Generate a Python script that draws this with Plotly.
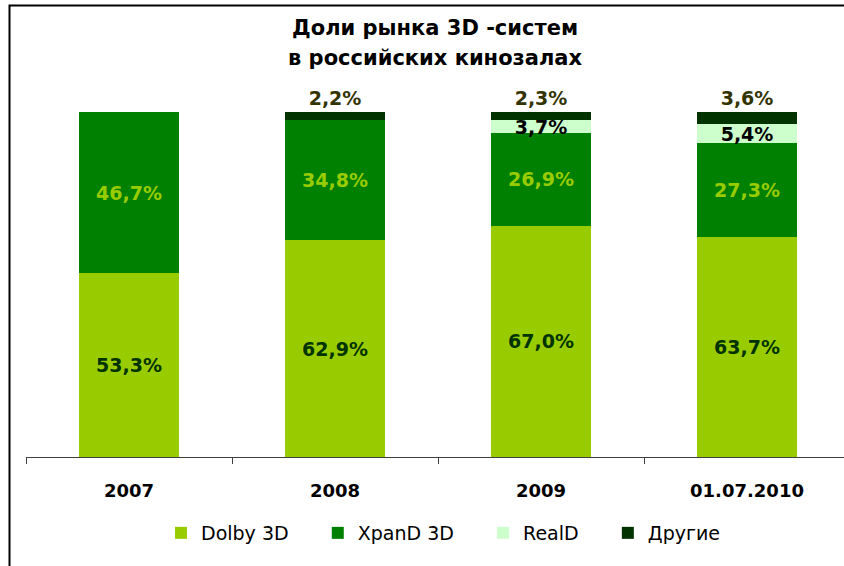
import plotly.graph_objects as go

categories = ["2007", "2008", "2009", "01.07.2010"]
dolby = [53.3, 62.9, 67.0, 63.7]
xpand = [46.7, 34.8, 26.9, 27.3]
reald = [0, 0, 3.7, 5.4]
other = [0, 2.2, 2.3, 3.6]
title_lines = ["Доли рынка 3D -систем", "в российских кинозалах"]

PAD = "\u00a0" * 4
series = [
    ("Dolby 3D" + PAD, dolby, "#99CC00", "#003300", "inside"),
    ("XpanD 3D" + PAD, xpand, "#008000", "#99CC00", "inside"),
    ("RealD" + PAD, reald, "#CCFFCC", "#000000", "inside"),
    ("Другие", other, "#003300", "#333300", "outside"),
]

def fmt(v):
    return ("%.1f%%" % v).replace(".", ",") if v > 0 else ""

LBL = dict(family="DejaVu Sans", size=19, weight="bold")

fig = go.Figure()
for name, vals, color, tcol, pos in series:
    fig.add_trace(go.Bar(
        x=categories, y=vals, name=name,
        marker=dict(color=color, line=dict(width=0)),
        text=[fmt(v) for v in vals],
        textposition=pos,
        insidetextanchor="middle",
        textangle=0,
        constraintext="none",
        textfont=dict(LBL, color=tcol),
        outsidetextfont=dict(LBL, color=tcol),
        insidetextfont=dict(LBL, color=tcol),
        cliponaxis=False,
    ))

# plot area: x 26..844, y 90..457 (pixels)
PT, PB, PL = 90, 457, 26
PH = PB - PT
PW = 844 - PL

def py(y):
    return (PB - y) / PH

def px(x):
    return (x - PL) / PW

annotations = [
    dict(text="<b>%s</b>" % t, xref="paper", yref="paper",
         x=px(435), y=py(yc), xanchor="center", yanchor="middle",
         showarrow=False,
         font=dict(family="DejaVu Sans", size=21, color="#000000"))
    for t, yc in zip(title_lines, [28, 58])
]

fig.update_layout(
    width=844, height=566,
    barmode="stack",
    bargap=0.515,
    plot_bgcolor="white", paper_bgcolor="white",
    margin=dict(l=PL, r=0, t=PT, b=566 - PB, autoexpand=False),
    annotations=annotations,
    xaxis=dict(
        type="category",
        range=[-0.5, 3.5 - 6 / 206],
        showline=True, linecolor="#404040", linewidth=1.3,
        ticks="outside", tickson="boundaries", ticklen=6, tickcolor="#404040",
        tickwidth=1.3,
        ticklabelstandoff=17,
        tickfont=dict(family="DejaVu Sans", size=18, color="#000000", weight="bold"),
        showgrid=False,
    ),
    yaxis=dict(
        range=[0, PH / 3.45],
        visible=False, showgrid=False, zeroline=False,
    ),
    legend=dict(
        orientation="h",
        x=px(443), xanchor="center", xref="paper",
        y=py(533), yanchor="middle", yref="paper",
        font=dict(family="DejaVu Sans", size=19, color="#000000"),
        itemwidth=30,
        traceorder="normal",
    ),
    showlegend=True,
    shapes=[dict(
        type="rect", xref="paper", yref="paper",
        x0=px(9.5), x1=px(900),
        y0=py(640), y1=py(5.5),
        line=dict(color="#000000", width=2), fillcolor="rgba(0,0,0,0)",
        layer="above",
    )],
)

fig.write_html(
    "out.html",
    config={"displayModeBar": False},
    post_script="document.body.style.margin='0';document.body.style.overflow='hidden';",
)
